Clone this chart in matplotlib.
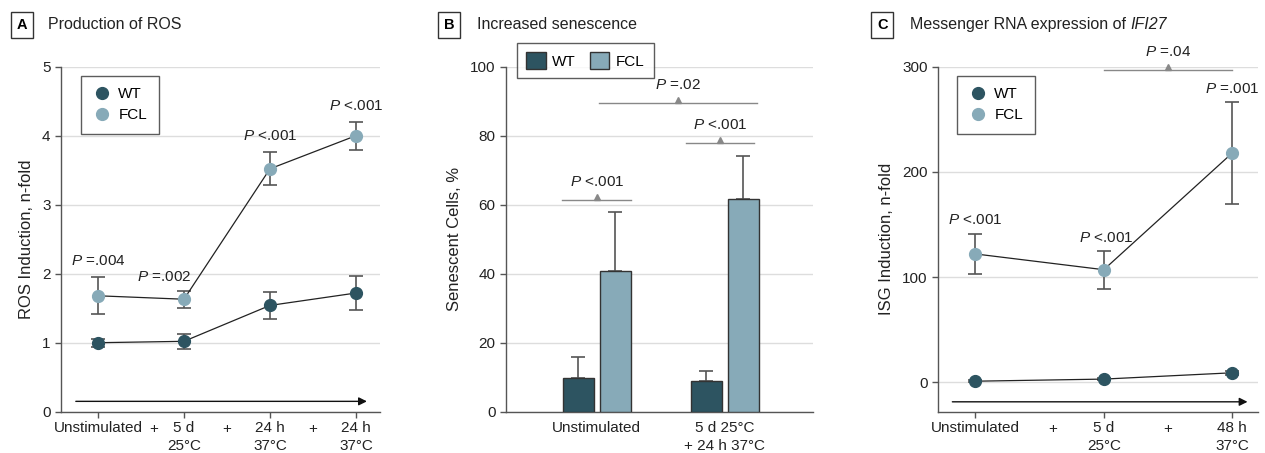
import matplotlib
matplotlib.use("Agg")
import matplotlib.pyplot as plt
import numpy as np
from matplotlib.lines import Line2D
from matplotlib.patches import Patch
from matplotlib import font_manager

names = {f.name for f in font_manager.fontManager.ttflist}
FONT = 'Liberation Sans Narrow' if 'Liberation Sans Narrow' in names else 'Liberation Sans'
plt.rcParams['font.family'] = [FONT, 'DejaVu Sans']
plt.rcParams['font.size'] = 10.5
plt.rcParams['mathtext.fontset'] = 'custom'
plt.rcParams['mathtext.it'] = FONT + ':italic'
plt.rcParams['mathtext.rm'] = FONT
plt.rcParams['mathtext.default'] = 'rm'

WT_C = '#2D5461'
FCL_C = '#87AAB8'
AX_C = '#555555'
GRID_C = '#DDDDDD'
TXT_C = '#222222'

# ---- Data ----
# Panel A
a_x_labels = ['Unstimulated', '5 d\n25°C', '24 h\n37°C', '24 h\n37°C']
a_wt = [1.00, 1.02, 1.54, 1.72]
a_wt_err = [0.06, 0.11, 0.19, 0.25]
a_fcl = [1.68, 1.63, 3.52, 4.00]
a_fcl_err = [0.27, 0.12, 0.24, 0.20]
a_p = ['$\\it{P}$ =.004', '$\\it{P}$ =.002', '$\\it{P}$ <.001', '$\\it{P}$ <.001']

# Panel B
b_groups = ['Unstimulated', '5 d 25°C\n+ 24 h 37°C']
b_wt = [9.9, 8.8]
b_wt_err = [6.0, 3.0]
b_fcl = [40.8, 61.7]
b_fcl_err = [17.1, 12.5]
b_p_within = ['$\\it{P}$ <.001', '$\\it{P}$ <.001']
b_p_between = '$\\it{P}$ =.02'

# Panel C
c_x_labels = ['Unstimulated', '5 d\n25°C', '48 h\n37°C']
c_wt = [1, 3, 9]
c_wt_err = [1, 1, 2]
c_fcl = [122, 107, 218]
c_fcl_err = [19, 18, 48.5]
c_p = ['$\\it{P}$ <.001', '$\\it{P}$ <.001', '$\\it{P}$ =.001']
c_p_between = '$\\it{P}$ =.04'

fig = plt.figure(figsize=(12.65, 4.53), dpi=100)
bottom = 1 - 411.7 / 453
top = 1 - 66.7 / 453
H = top - bottom
PLUS_Y = -(429 - 411.7) / 345

def style_axes(ax):
    for s in ['top', 'right']:
        ax.spines[s].set_visible(False)
    for s in ['left', 'bottom']:
        ax.spines[s].set_color(AX_C)
        ax.spines[s].set_linewidth(1.0)
    ax.tick_params(colors=AX_C, labelcolor=TXT_C, length=4, width=1.0, labelsize=11)
    ax.tick_params(axis='x', pad=3)
    ax.yaxis.grid(True, color=GRID_C, lw=1.0)
    ax.set_axisbelow(True)

def panel_title(x_box, x_text, letter, title, italic_tail=None):
    fig.text(x_box, 0.945, letter, fontsize=10.5, fontweight='bold', ha='left', va='center',
             bbox=dict(boxstyle='square,pad=0.4', fc='white', ec='#333333', lw=1.0))
    t = fig.text(x_text, 0.945, title, fontsize=11.5, ha='left', va='center', color=TXT_C)
    if italic_tail:
        fig.canvas.draw()
        bb = t.get_window_extent()
        fig.text(bb.x1 / fig.bbox.width, 0.945, italic_tail, fontsize=11.5, style='italic',
                 ha='left', va='center', color=TXT_C)

def bracket(ax, x0, x1, y, ytxt, label, dy):
    ax.plot([x0, x1], [y, y], color='#888888', lw=1.0, zorder=3, clip_on=False)
    ax.plot([(x0 + x1) / 2], [y + dy], marker='^', color='#888888', ms=5, zorder=3, clip_on=False)
    ax.text((x0 + x1) / 2, ytxt, label, ha='center', va='center', fontsize=11, color=TXT_C)

def point_panel(ax, xs, wt, wt_err, fcl, fcl_err):
    kw = dict(color='#222222', ecolor=AX_C, lw=0.9, elinewidth=1.2,
              capsize=5, capthick=1.2, marker='o', ms=8.5, zorder=4)
    ax.errorbar(xs, wt, yerr=wt_err, mfc=WT_C, mec=WT_C, **kw)
    ax.errorbar(xs, fcl, yerr=fcl_err, mfc=FCL_C, mec=FCL_C, **kw)
    return [Line2D([], [], ls='none', marker='o', ms=8.5, color=WT_C, label='WT'),
            Line2D([], [], ls='none', marker='o', ms=8.5, color=FCL_C, label='FCL')]

def set_xlabels(ax, xs, labels):
    ax.set_xticks(xs)
    ax.set_xticklabels(labels, va='top', linespacing=1.3)

def plus_signs(ax, positions):
    for m in positions:
        ax.text(m, PLUS_Y, '+', transform=ax.get_xaxis_transform(), ha='center', va='center',
                fontsize=11, color=TXT_C)

def point_legend(ax, handles, x0, w):
    leg = ax.legend(handles=handles, loc='upper left',
                    bbox_to_anchor=((x0) / w, (411.7 - 76) / 345), borderaxespad=0,
                    frameon=True, fancybox=False, edgecolor='#333333', handletextpad=0.4,
                    borderpad=0.75, labelspacing=0.45, handlelength=1.3, fontsize=11)
    leg.get_frame().set_linewidth(1.0)

# ---- Panel A ----
axA = fig.add_axes([61 / 1265, bottom, (380 - 61) / 1265, H])
style_axes(axA)
xa = np.arange(len(a_wt))
hA = point_panel(axA, xa, a_wt, a_wt_err, a_fcl, a_fcl_err)
axA.set_xlim(-0.43, 3.28)
axA.set_ylim(0, 5)
axA.set_yticks([0, 1, 2, 3, 4, 5])
set_xlabels(axA, xa, a_x_labels)
plus_signs(axA, [0.65, 1.5, 2.5])
axA.set_ylabel('ROS Induction, n-fold', color=TXT_C, fontsize=12, labelpad=6)
axA.annotate('', xy=(3.16, 0.15), xytext=(-0.29, 0.15),
             arrowprops=dict(arrowstyle='-|>', color='#111111', lw=1.0, mutation_scale=12))
a_ptxt = [(xa[0], 2.18), (xa[1] - 0.23, 1.95), (xa[2], 4.0), (xa[3], 4.43)]
for (px, py), lab in zip(a_ptxt, a_p):
    axA.text(px, py, lab, ha='center', va='center', fontsize=11, color=TXT_C)
point_legend(axA, hA, 81 - 61, 319)
panel_title(17 / 1265, 48 / 1265, 'A', 'Production of ROS')

# ---- Panel B ----
axB = fig.add_axes([506 / 1265, bottom, (813 - 506) / 1265, H])
style_axes(axB)
xb = np.arange(len(b_groups))
off, w = 0.145, 0.245
axB.bar(xb - off, b_wt, width=w, color=WT_C, edgecolor='#333333', lw=1.0, zorder=3)
axB.bar(xb + off, b_fcl, width=w, color=FCL_C, edgecolor='#333333', lw=1.0, zorder=3)
axB.errorbar(xb - off, b_wt, yerr=[np.zeros(len(b_wt)), b_wt_err], fmt='none', ecolor=AX_C,
             elinewidth=1.2, capsize=5, capthick=1.2, zorder=2)
axB.errorbar(xb + off, b_fcl, yerr=[np.zeros(len(b_fcl)), b_fcl_err], fmt='none', ecolor=AX_C,
             elinewidth=1.2, capsize=5, capthick=1.2, zorder=2)
axB.set_xlim(-0.71, 1.69)
axB.set_ylim(0, 100)
axB.set_yticks([0, 20, 40, 60, 80, 100])
set_xlabels(axB, xb, b_groups)
axB.tick_params(axis='x', length=0, pad=7)
axB.set_ylabel('Senescent Cells, %', color=TXT_C, fontsize=12, labelpad=6)
bracket(axB, -0.27, 0.27, 61.4, 66.7, b_p_within[0], 0.9)
bracket(axB, 0.70, 1.23, 77.8, 83.0, b_p_within[1], 0.9)
bracket(axB, 0.02, 1.25, 89.4, 94.7, b_p_between, 0.9)
hB = [Patch(facecolor=WT_C, edgecolor='#333333', label='WT'),
      Patch(facecolor=FCL_C, edgecolor='#333333', label='FCL')]
legB = axB.legend(handles=hB, loc='upper left',
                  bbox_to_anchor=((517 - 506) / 307, (411.7 - 43) / 345), borderaxespad=0,
                  ncol=2, frameon=True, fancybox=False, edgecolor='#333333', handletextpad=0.4,
                  columnspacing=0.9, borderpad=0.6, handlelength=1.3, handleheight=1.35,
                  fontsize=11)
legB.get_frame().set_linewidth(1.0)
panel_title(444 / 1265, 477 / 1265, 'B', 'Increased senescence')

# ---- Panel C ----
axC = fig.add_axes([938 / 1265, bottom, (1258 - 938) / 1265, H])
style_axes(axC)
xc = np.arange(len(c_wt))
hC = point_panel(axC, xc, c_wt, c_wt_err, c_fcl, c_fcl_err)
axC.set_xlim(-0.29, 2.2)
axC.set_ylim(-28, 300)
axC.set_yticks([0, 100, 200, 300])
set_xlabels(axC, xc, c_x_labels)
plus_signs(axC, [0.6, 1.5])
axC.set_ylabel('ISG Induction, n-fold', color=TXT_C, fontsize=12, labelpad=6)
axC.annotate('', xy=(2.14, -18.6), xytext=(-0.2, -18.6),
             arrowprops=dict(arrowstyle='-|>', color='#111111', lw=1.0, mutation_scale=12))
c_ptxt = [(xc[0], 154), (xc[1] + 0.02, 137), (xc[2], 278.5)]
for (px, py), lab in zip(c_ptxt, c_p):
    axC.text(px, py, lab, ha='center', va='center', fontsize=11, color=TXT_C)
bracket(axC, 1.0, 2.0, 297, 314, c_p_between, 3)
point_legend(axC, hC, 957 - 938, 320)
panel_title(877 / 1265, 910 / 1265, 'C', 'Messenger RNA expression of ', 'IFI27')

fig.savefig('out.png', dpi=100)
